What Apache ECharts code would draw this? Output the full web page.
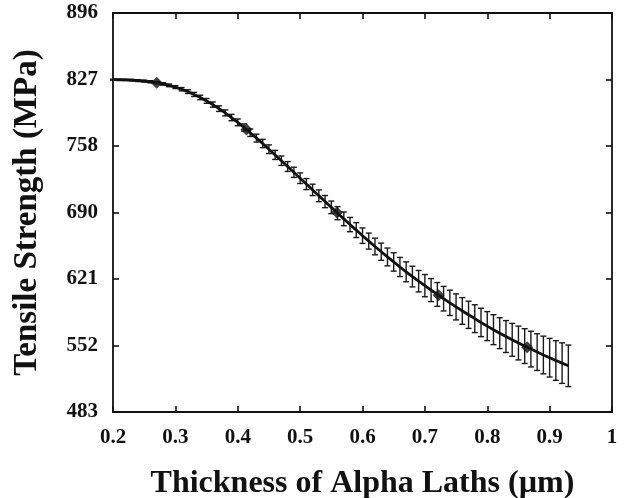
<!DOCTYPE html>
<html>
<head>
<meta charset="utf-8">
<script src="https://cdn.jsdelivr.net/npm/echarts@6/dist/echarts.min.js"></script>
<style>
html,body{margin:0;padding:0;background:#fff;}
#chart{width:626px;height:498px;}
</style>
</head>
<body>
<div id="chart"></div>
<script>
// Lath thickness (µm)
const thickness = [0.20,0.21,0.22,0.23,0.24,0.25,0.26,0.27,0.28,0.29,
  0.30,0.31,0.32,0.33,0.34,0.35,0.36,0.37,0.38,0.39,
  0.40,0.41,0.42,0.43,0.44,0.45,0.46,0.47,0.48,0.49,
  0.50,0.51,0.52,0.53,0.54,0.55,0.56,0.57,0.58,0.59,
  0.60,0.61,0.62,0.63,0.64,0.65,0.66,0.67,0.68,0.69,
  0.70,0.71,0.72,0.73,0.74,0.75,0.76,0.77,0.78,0.79,
  0.80,0.81,0.82,0.83,0.84,0.85,0.86,0.87,0.88,0.89,
  0.90,0.91,0.92,0.93];
// Tensile strength (MPa)
const strength = [827.0,826.9,826.8,826.5,826.0,825.5,824.8,823.9,822.6,821.1,
  819.3,817.1,814.6,811.7,808.6,805.0,801.2,797.0,792.6,787.8,
  782.8,777.5,772.1,766.5,760.9,755.0,749.1,743.1,737.1,731.1,
  725.0,718.9,712.9,706.8,700.8,694.8,688.8,682.9,677.0,671.3,
  665.5,659.9,654.3,648.9,643.5,638.3,633.1,628.1,623.2,618.4,
  613.8,609.2,604.7,600.3,596.0,591.8,587.6,583.6,579.6,575.7,
  571.9,568.2,564.6,561.1,557.7,554.4,551.2,548.1,545.0,542.0,
  539.2,536.3,533.6,530.8];
// Error half-width (MPa)
const errorHalf = [0.5,0.6,0.7,0.8,0.9,1.0,1.1,1.2,1.3,1.4,
  1.5,1.7,1.9,2.1,2.3,2.5,2.7,2.9,3.1,3.3,
  3.5,3.7,3.9,4.1,4.3,4.5,4.7,4.9,5.1,5.3,
  5.5,5.7,5.9,6.1,6.3,6.5,6.8,7.1,7.4,7.7,
  8.0,8.3,8.6,8.9,9.2,9.5,9.9,10.3,10.7,11.1,
  11.5,11.9,12.3,12.7,13.1,13.5,13.8,14.1,14.4,14.7,
  15.0,15.5,16.0,16.5,17.0,17.5,18.0,18.5,19.0,19.5,
  20.0,20.5,21.0,21.5];
// Highlighted points (diamonds)
const markerX = [0.27,0.414,0.559,0.722,0.864];
const markerY = [823.9,775.3,689.4,603.9,549.9];
// Y ticks
const yTickValues = [483,551.83,620.67,689.5,758.33,827.17,896];
const yTickLabels = ['483','552','621','690','758','827','896'];
const xTickLabels = ['0.2','0.3','0.4','0.5','0.6','0.7','0.8','0.9','1'];

const FONT = 'Liberation Serif';
const axisLineStyle = {color:'#111', width:1.8};
const tickStyle = {color:'#111', width:1.6};
const chart = echarts.init(document.getElementById('chart'));

function yLabel(v){
  let best = 0;
  for (let i=1;i<yTickValues.length;i++) if (Math.abs(yTickValues[i]-v) < Math.abs(yTickValues[best]-v)) best = i;
  return yTickLabels[best];
}

chart.setOption({
  backgroundColor:'#fff',
  animation:false,
  grid:{left:113, right:14, top:13, bottom:86, containLabel:false, outerBoundsMode:'none'},
  xAxis:[{
    type:'value', min:0.2, max:1, interval:0.1, position:'bottom',
    name:'Thickness of Alpha Laths (µm)', nameLocation:'middle', nameGap:56,
    nameTextStyle:{fontFamily:FONT, fontWeight:'bold', fontSize:32, color:'#111'},
    axisLine:{show:true, lineStyle:axisLineStyle},
    axisTick:{show:true, inside:true, length:6, lineStyle:tickStyle},
    axisLabel:{fontFamily:FONT, fontWeight:'bold', fontSize:21, color:'#111', margin:15,
      formatter:function(v){ return xTickLabels[Math.round((v-0.2)/0.1)]; }},
    splitLine:{show:false}
  },{
    type:'value', min:0.2, max:1, interval:0.1, position:'top',
    axisLine:{show:true, lineStyle:axisLineStyle},
    axisTick:{show:true, inside:true, length:6, lineStyle:tickStyle},
    axisLabel:{show:false}, splitLine:{show:false}
  }],
  yAxis:[{
    type:'value', min:483, max:896, position:'left',
    name:'Tensile Strength (MPa)', nameLocation:'middle', nameGap:69,
    nameTextStyle:{fontFamily:FONT, fontWeight:'bold', fontSize:33, color:'#111'},
    axisLine:{show:true, lineStyle:axisLineStyle},
    axisTick:{show:true, inside:true, length:6, customValues:yTickValues, lineStyle:tickStyle},
    axisLabel:{fontFamily:FONT, fontWeight:'bold', fontSize:21, color:'#111', margin:15,
      customValues:yTickValues, formatter:yLabel},
    splitLine:{show:false}
  },{
    type:'value', min:483, max:896, position:'right',
    axisLine:{show:true, lineStyle:axisLineStyle},
    axisTick:{show:true, inside:true, length:6, customValues:yTickValues, lineStyle:tickStyle},
    axisLabel:{show:false, customValues:yTickValues}, splitLine:{show:false}
  }],
  series:[{
    type:'custom',
    xAxisIndex:0, yAxisIndex:0,
    data: thickness.map((x,i)=>[x, strength[i], errorHalf[i]]),
    renderItem:function(params, api){
      const x = api.value(0), y = api.value(1), e = api.value(2);
      const top = api.coord([x, y+e]);
      const bot = api.coord([x, y-e]);
      const h = 3;
      const st = {stroke:'#1a1a1a', lineWidth:1.4};
      return {type:'group', children:[
        {type:'line', shape:{x1:top[0], y1:top[1], x2:bot[0], y2:bot[1]}, style:st},
        {type:'line', shape:{x1:top[0]-h, y1:top[1], x2:top[0]+h, y2:top[1]}, style:st},
        {type:'line', shape:{x1:bot[0]-h, y1:bot[1], x2:bot[0]+h, y2:bot[1]}, style:st}
      ]};
    },
    z:2
  },{
    type:'line',
    xAxisIndex:0, yAxisIndex:0,
    data: thickness.map((x,i)=>[x, strength[i]]),
    showSymbol:false, symbol:'none', smooth:false,
    lineStyle:{color:'#111', width:2.8},
    z:3
  },{
    type:'scatter',
    xAxisIndex:0, yAxisIndex:0,
    data: markerX.map((x,i)=>[x, markerY[i]]),
    symbol:'diamond', symbolSize:12,
    itemStyle:{color:'#111'},
    z:4
  }]
});
</script>
</body>
</html>
